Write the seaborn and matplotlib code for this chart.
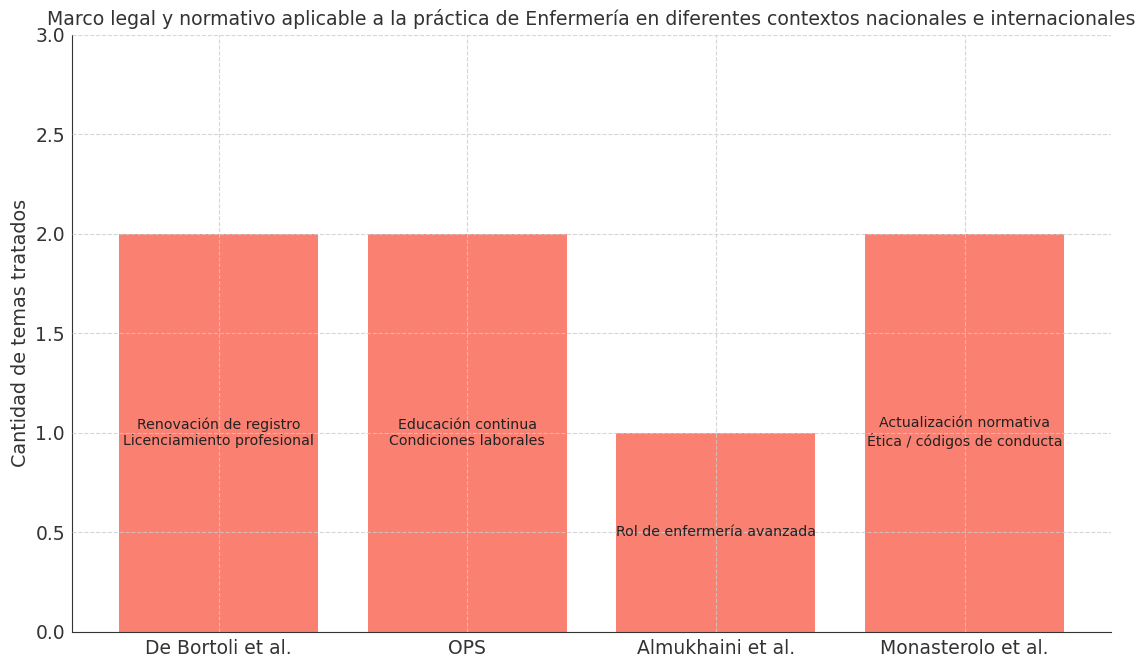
import matplotlib
matplotlib.use("Agg")
import matplotlib.pyplot as plt
import seaborn as sns
import pandas as pd

autores = ["De Bortoli et al.", "OPS", "Almukhaini et al.", "Monasterolo et al."]
temas = [
    "Renovación de registro\nLicenciamiento profesional",
    "Educación continua\nCondiciones laborales",
    "Rol de enfermería avanzada",
    "Actualización normativa\nÉtica / códigos de conducta",
]
cantidad = [2, 2, 1, 2]

df = pd.DataFrame({"autor": autores, "cantidad": cantidad, "temas": temas})

sns.set_style("white")
plt.rcParams["font.family"] = ["DejaVu Sans"]

fig, ax = plt.subplots(figsize=(11.41, 6.58), dpi=100)
sns.barplot(data=df, x="autor", y="cantidad", color="salmon", saturation=1,
            width=0.8, linewidth=0, ax=ax)

for i, (h, t) in enumerate(zip(cantidad, temas)):
    ax.text(i, h / 2, t, ha="center", va="center", fontsize=10.2, color="#222222")

ax.set_xlim(-0.59, 3.59)
ax.set_ylim(0, 3)
ax.set_xlabel("")
ax.set_ylabel("Cantidad de temas tratados", fontsize=13.8, color="#333333")
ax.set_title("Marco legal y normativo aplicable a la práctica de Enfermería en diferentes contextos nacionales e internacionales",
             fontsize=13.6, color="#333333", pad=7)
ax.tick_params(axis="both", labelsize=13.5, colors="#333333", length=3, pad=2)
ax.grid(True, linestyle="--", color="#cccccc", linewidth=0.8, alpha=0.8)
ax.set_axisbelow(False)
for s in ["top", "right"]:
    ax.spines[s].set_visible(False)
for s in ["left", "bottom"]:
    ax.spines[s].set_color("#333333")

fig.subplots_adjust(left=0.063, right=0.974, top=0.947, bottom=0.04)
fig.savefig("out.png", dpi=100)
